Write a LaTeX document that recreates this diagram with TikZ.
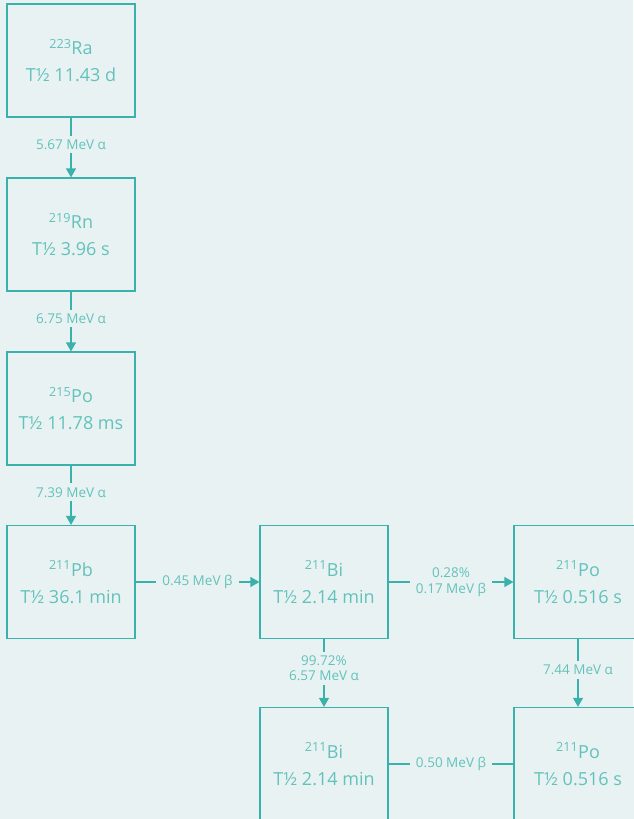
\documentclass[tikz,border=0pt]{standalone}
\usepackage{fontspec}
\setmainfont{Open Sans}
\usetikzlibrary{arrows.meta}
\definecolor{bg}{HTML}{E9F2F3}
\definecolor{ln}{HTML}{3BB1AB}
\definecolor{tx}{HTML}{62C2BB}
\tikzset{
  nuc/.style={draw=ln, line width=1.2pt, fill=bg, minimum width=128pt, minimum height=113pt,
    inner sep=0pt, align=center, text=tx, font=\fontsize{18}{27}\selectfont},
  conn/.style={draw=ln, line width=1.2pt},
  arr/.style={conn, -{Triangle[width=10pt,length=9pt]}},
  lbl/.style={fill=bg, text=tx, inner xsep=6pt, inner ysep=4pt, align=center,
    font=\fontsize{13.5}{15.5}\selectfont}
}
\begin{document}
\begin{tikzpicture}[x=1pt,y=-1pt]
\fill[bg] (0,0) rectangle (633,819);
\useasboundingbox (0,0) rectangle (633,819);
\node[nuc] (ra) at (71,60.5) {\textsuperscript{223}Ra\\T½ 11.43 d};
\node[nuc] (rn) at (71,234.5) {\textsuperscript{219}Rn\\T½ 3.96 s};
\node[nuc] (po215) at (71,408.5) {\textsuperscript{215}Po\\T½ 11.78 ms};
\node[nuc] (pb) at (71,582) {\textsuperscript{211}Pb\\T½ 36.1 min};
\node[nuc] (bi) at (324,582) {\textsuperscript{211}Bi\\T½ 2.14 min};
\node[nuc] (po211) at (578,582) {\textsuperscript{211}Po\\T½ 0.516 s};
\node[nuc] (bi2) at (324,764) {\textsuperscript{211}Bi\\T½ 2.14 min};
\node[nuc] (po2) at (578,764) {\textsuperscript{211}Po\\T½ 0.516 s};
\draw[arr] (ra) -- node[lbl, pos=0.45]{5.67 MeV α} (rn);
\draw[arr] (rn) -- node[lbl, pos=0.45]{6.75 MeV α} (po215);
\draw[arr] (po215) -- node[lbl, pos=0.45]{7.39 MeV α} (pb);
\draw[arr] (pb) -- node[lbl]{0.45 MeV β} (bi);
\draw[arr] (bi) -- node[lbl]{0.28\%\\0.17 MeV β} (po211);
\draw[arr] (bi) -- node[lbl, pos=0.43]{99.72\%\\6.57 MeV α} (bi2);
\draw[arr] (po211) -- node[lbl, pos=0.45]{7.44 MeV α} (po2);
\draw[conn] (bi2) -- node[lbl]{0.50 MeV β} (po2);
\end{tikzpicture}
\end{document}
